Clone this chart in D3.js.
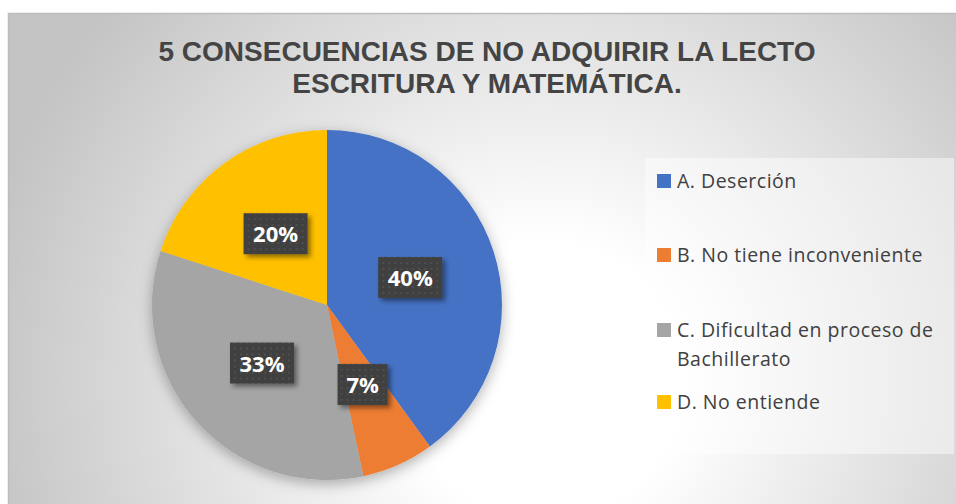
<!DOCTYPE html>
<html>
<head>
<meta charset="utf-8">
<script src="https://cdnjs.cloudflare.com/ajax/libs/d3/7.8.5/d3.min.js"></script>
<style>
  body { margin: 0; background: #fff; }
  svg { display: block; }
</style>
</head>
<body>
<div id="chart"></div>
<script>
var titleLines = ["5 CONSECUENCIAS DE NO ADQUIRIR LA LECTO", "ESCRITURA Y MATEMÁTICA."];
var categories = ["A. Deserción", "B. No tiene inconveniente", "C. Dificultad en proceso de Bachillerato", "D. No entiende"];
var legendLines = [["A. Deserción"], ["B. No tiene inconveniente"], ["C. Dificultad en proceso de", "Bachillerato"], ["D. No entiende"]];
var counts = [6, 1, 5, 3];
var colors = ["#4472C4", "#ED7D31", "#A5A5A5", "#FFC000"];

var width = 956, height = 504;
var cx = 327, cy = 305, radius = 175;

var svg = d3.select("#chart").append("svg")
    .attr("width", width)
    .attr("height", height);

var defs = svg.append("defs");

// background gradient
var bg = defs.append("radialGradient")
    .attr("id", "bgGrad")
    .attr("gradientUnits", "userSpaceOnUse")
    .attr("cx", 545).attr("cy", 380).attr("r", 570);
bg.append("stop").attr("offset", "0").attr("stop-color", "#ffffff");
bg.append("stop").attr("offset", "0.24").attr("stop-color", "#ffffff");
bg.append("stop").attr("offset", "1").attr("stop-color", "#c4c4c4");

var pieShadow = defs.append("filter").attr("id", "pieShadow")
    .attr("x", "-20%").attr("y", "-20%").attr("width", "140%").attr("height", "140%");
pieShadow.append("feDropShadow")
    .attr("dx", 0).attr("dy", 4).attr("stdDeviation", 7)
    .attr("flood-color", "#000").attr("flood-opacity", 0.3);

var boxShadow = defs.append("filter").attr("id", "boxShadow")
    .attr("x", "-30%").attr("y", "-30%").attr("width", "160%").attr("height", "160%");
boxShadow.append("feDropShadow")
    .attr("dx", 3).attr("dy", 3).attr("stdDeviation", 2.5)
    .attr("flood-color", "#000").attr("flood-opacity", 0.45);

var dots = defs.append("pattern").attr("id", "dots")
    .attr("patternUnits", "userSpaceOnUse")
    .attr("width", 6).attr("height", 6);
dots.append("rect").attr("width", 6).attr("height", 6).attr("fill", "#404040");
dots.append("circle").attr("cx", 3).attr("cy", 3).attr("r", 0.9).attr("fill", "#555");

// chart area
svg.append("rect")
    .attr("x", 8.5).attr("y", 13.5)
    .attr("width", 970).attr("height", 520)
    .attr("fill", "url(#bgGrad)")
    .attr("stroke", "#bdbdbd")
    .attr("stroke-width", 1.5);

// title
svg.append("g").selectAll("text")
    .data(titleLines).enter()
    .append("text")
    .attr("x", 487)
    .attr("y", function (d, i) { return 61 + i * 32; })
    .attr("text-anchor", "middle")
    .attr("font-family", "'Liberation Sans', Arial, sans-serif")
    .attr("font-weight", "bold")
    .attr("font-size", "28px")
    .attr("fill", "#444444")
    .text(function (d) { return d; });

// pie
var pie = d3.pie().sort(null).value(function (d) { return d; });
var arcs = pie(counts);
var total = d3.sum(counts);
var arc = d3.arc().innerRadius(0).outerRadius(radius);
var labelArc = d3.arc().innerRadius(radius / 2).outerRadius(radius / 2);

var pieG = svg.append("g")
    .attr("transform", "translate(" + cx + "," + cy + ")");

pieG.append("g")
    .attr("filter", "url(#pieShadow)")
    .selectAll("path")
    .data(arcs).enter()
    .append("path")
    .attr("d", arc)
    .attr("fill", function (d, i) { return colors[i]; });

// data labels
var labels = pieG.selectAll(".lbl")
    .data(arcs).enter()
    .append("g")
    .attr("class", "lbl")
    .attr("transform", function (d) { return "translate(" + labelArc.centroid(d) + ")"; });

labels.each(function (d) {
    var g = d3.select(this);
    var txt = Math.round(d.value / total * 100) + "%";
    var w = txt.length > 2 ? 64 : 50;
    g.append("rect")
        .attr("x", -w / 2).attr("y", -21)
        .attr("width", w).attr("height", 41)
        .attr("fill", "url(#dots)")
        .attr("filter", "url(#boxShadow)");
    g.append("text")
        .attr("text-anchor", "middle")
        .attr("y", 8)
        .attr("font-family", "'Open Sans', sans-serif")
        .attr("font-weight", "bold")
        .attr("font-size", "22px")
        .attr("fill", "#ffffff")
        .text(txt);
});

// legend
svg.append("rect")
    .attr("x", 645).attr("y", 158)
    .attr("width", 309).attr("height", 296)
    .attr("fill", "#ffffff")
    .attr("fill-opacity", 0.45);

var legendY = [188, 262, 337, 409];
var legend = svg.append("g").selectAll("g")
    .data(categories).enter()
    .append("g")
    .attr("transform", function (d, i) { return "translate(657," + legendY[i] + ")"; });

legend.append("rect")
    .attr("x", 0).attr("y", -14)
    .attr("width", 14).attr("height", 14)
    .attr("fill", function (d, i) { return colors[i]; });

legend.append("text")
    .attr("x", 20)
    .attr("font-family", "'Open Sans', sans-serif")
    .attr("font-size", "19.5px")
    .attr("letter-spacing", "0.5px")
    .attr("fill", "#404040")
    .each(function (d, i) {
        var t = d3.select(this);
        legendLines[i].forEach(function (line, j) {
            t.append("tspan")
                .attr("x", 20)
                .attr("dy", j === 0 ? 0 : 29)
                .text(line);
        });
    });
</script>
</body>
</html>
